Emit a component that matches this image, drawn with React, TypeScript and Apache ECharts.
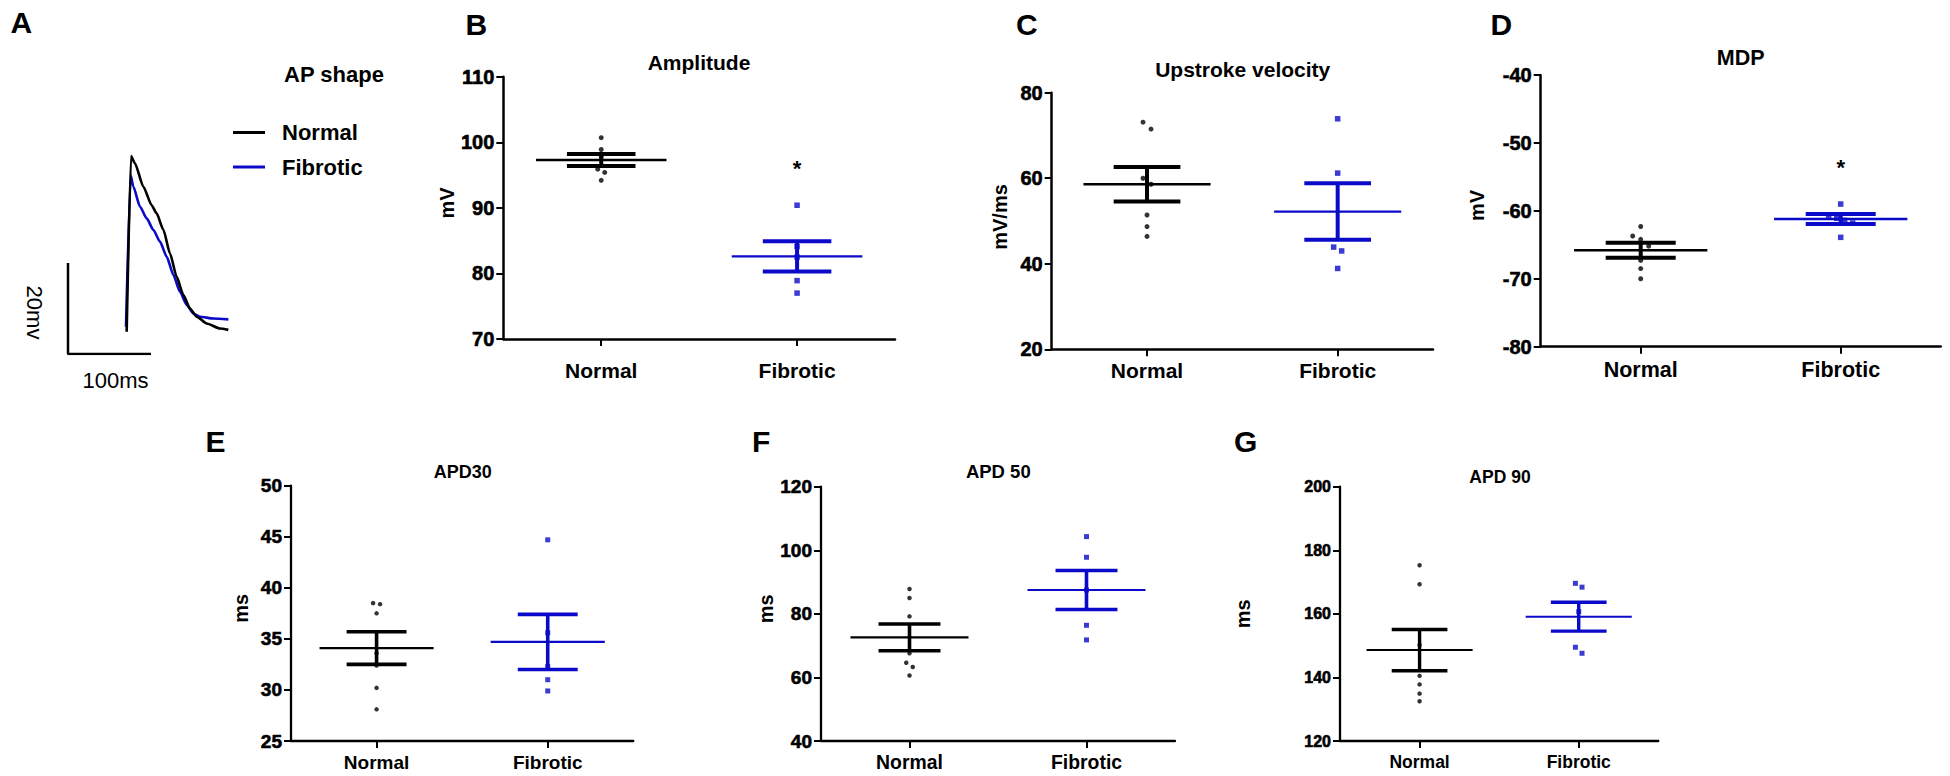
import React, { useEffect, useRef } from 'react';
import * as echarts from 'echarts';

// ---------------- data ----------------
const groups = ['Normal', 'Fibrotic'];

// Panel A: representative action potential traces [time (ms), potential (mV)]
const traceNormal = [
  [70.7, 4.9], [75.9, 43.5], [80.7, 41.9], [90.7, 36.8], [100.8, 32.7], [106.8, 30.9],
  [114.9, 27.3], [122.9, 22.1], [130.9, 17.0], [138.9, 13.0], [147.0, 10.0], [155.0, 8.2],
  [167.1, 6.7], [183.1, 5.6], [193.2, 5.3],
];
const traceFibrotic = [
  [69.9, 6.0], [75.5, 39.3], [78.7, 36.8], [86.7, 32.4], [94.8, 29.8], [102.8, 27.3],
  [110.8, 24.7], [118.9, 21.4], [126.9, 17.4], [134.9, 13.7], [143.0, 10.8], [151.0, 8.9],
  [159.0, 8.2], [175.1, 7.8], [193.2, 7.6],
];
const scaleBar = [[0, 20], [0, 0], [100, 0]]; // 20 mV / 100 ms

// Panel B: Amplitude (mV)
const amplitudeNormal = [100.7, 98.9, 97.8, 95.9, 95.4, 94.2];
const amplitudeFibrotic = [90.4, 84.1, 82.5, 78.9, 77.0];
const amplitudeMean = [97.3, 82.6];
const amplitudeSem = [0.9, 2.3];
const amplitudeStar = 96.1;

// Panel C: Upstroke velocity (mV/ms)
const upstrokeNormal = [73.1, 71.5, 60.0, 58.6, 51.4, 48.7, 46.4];
const upstrokeFibrotic = [73.9, 61.2, 43.9, 43.0, 38.9];
const upstrokeMean = [58.6, 52.2];
const upstrokeSem = [4.05, 6.6];

// Panel D: MDP (mV)
const mdpNormal = [-62.3, -63.7, -64.2, -65.2, -67.3, -68.5, -70.0];
const mdpFibrotic = [-59.0, -60.7, -61.1, -61.4, -61.8, -63.9];
const mdpMean = [-65.8, -61.2];
const mdpSem = [1.1, 0.75];
const mdpStar = -53.5;

// Panel E: APD30 (ms)
const apd30Normal = [38.5, 38.4, 37.5, 33.6, 32.4, 30.2, 28.1];
const apd30Fibrotic = [44.7, 35.6, 32.3, 31.0, 29.9];
const apd30Mean = [34.1, 34.7];
const apd30Sem = [1.6, 2.7];

// Panel F: APD 50 (ms)
const apd50Normal = [87.8, 85.0, 79.2, 67.6, 64.6, 63.3, 60.6];
const apd50Fibrotic = [104.3, 97.8, 87.5, 76.4, 71.8];
const apd50Mean = [72.6, 87.5];
const apd50Sem = [4.2, 6.15];

// Panel G: APD 90 (ms)
const apd90Normal = [175.3, 169.3, 150.2, 140.5, 137.8, 134.9, 132.5];
const apd90Fibrotic = [169.6, 168.4, 160.7, 149.5, 147.6];
const apd90Mean = [148.6, 159.1];
const apd90Sem = [6.5, 4.55];

// ---------------- styles ----------------
const FONT = '"Liberation Sans", Arial, Helvetica, sans-serif';
const BLACK = '#000000';
const BLUE = '#0a0ac8';

type Panel = {
  title: string; yName: string;
  normal: number[]; fibrotic: number[]; mean: number[]; sem: number[]; star?: number;
  min: number; max: number; interval: number;
  grid: { left: number; top: number; width: number; height: number };
  yFont: number; xFont: number; xMargin: number; nameGap: number; namePad: number;
  step: number; dot: number; square: number; axisW: number; meanW: number; capW: number;
};

const panels: Panel[] = [
  { title: 'Amplitude', yName: 'mV', normal: amplitudeNormal, fibrotic: amplitudeFibrotic, mean: amplitudeMean, sem: amplitudeSem, star: amplitudeStar,
    min: 70, max: 110, interval: 10, grid: { left: 503.3, top: 76.7, width: 391.7, height: 262.3 },
    yFont: 20, xFont: 21, xMargin: 20.5, nameGap: 46, namePad: 10, step: 7, dot: 5, square: 5.5, axisW: 2.5, meanW: 2.4, capW: 4 },
  { title: 'Upstroke velocity', yName: 'mV/ms', normal: upstrokeNormal, fibrotic: upstrokeFibrotic, mean: upstrokeMean, sem: upstrokeSem,
    min: 20, max: 80, interval: 20, grid: { left: 1051.7, top: 92.7, width: 381.3, height: 256.6 },
    yFont: 20, xFont: 21, xMargin: 10.5, nameGap: 42, namePad: 8, step: 8, dot: 5, square: 5.5, axisW: 2.5, meanW: 2.4, capW: 4 },
  { title: 'MDP', yName: 'mV', normal: mdpNormal, fibrotic: mdpFibrotic, mean: mdpMean, sem: mdpSem, star: mdpStar,
    min: -80, max: -40, interval: 10, grid: { left: 1540.7, top: 75, width: 400, height: 271.7 },
    yFont: 20, xFont: 21.5, xMargin: 12, nameGap: 54, namePad: 11, step: 8, dot: 5, square: 5.5, axisW: 2.5, meanW: 2.4, capW: 4 },
  { title: 'APD30', yName: 'ms', normal: apd30Normal, fibrotic: apd30Fibrotic, mean: apd30Mean, sem: apd30Sem,
    min: 25, max: 50, interval: 5, grid: { left: 291, top: 485.7, width: 342.3, height: 255.3 },
    yFont: 19, xFont: 19, xMargin: 11.5, nameGap: 40, namePad: 10, step: 7, dot: 4.5, square: 5, axisW: 2.3, meanW: 2.2, capW: 3.6 },
  { title: 'APD 50', yName: 'ms', normal: apd50Normal, fibrotic: apd50Fibrotic, mean: apd50Mean, sem: apd50Sem,
    min: 40, max: 120, interval: 20, grid: { left: 821, top: 486.7, width: 354, height: 254.3 },
    yFont: 19, xFont: 19.4, xMargin: 11.5, nameGap: 43.5, namePad: 10, step: 6.5, dot: 4.5, square: 5, axisW: 2.3, meanW: 2.2, capW: 3.6 },
  { title: 'APD 90', yName: 'ms', normal: apd90Normal, fibrotic: apd90Fibrotic, mean: apd90Mean, sem: apd90Sem,
    min: 120, max: 200, interval: 20, grid: { left: 1340, top: 486.7, width: 318.3, height: 254.3 },
    yFont: 16, xFont: 17.5, xMargin: 12, nameGap: 87, namePad: 0, step: 6.6, dot: 4.5, square: 5, axisW: 2.3, meanW: 2.0, capW: 3.4 },
];

const titles = [
  { text: 'A', x: 10.5, y: 22.5, size: 30, align: 'left' },
  { text: 'B', x: 465.5, y: 24, size: 30, align: 'left' },
  { text: 'C', x: 1016, y: 24, size: 30, align: 'left' },
  { text: 'D', x: 1490.5, y: 24, size: 30, align: 'left' },
  { text: 'E', x: 205.5, y: 441, size: 30, align: 'left' },
  { text: 'F', x: 752, y: 441, size: 30, align: 'left' },
  { text: 'G', x: 1234, y: 441, size: 30, align: 'left' },
  { text: 'AP shape', x: 334, y: 74.5, size: 22, align: 'center' },
  { text: 'Amplitude', x: 699, y: 62.3, size: 21, align: 'center' },
  { text: 'Upstroke velocity', x: 1242.7, y: 69, size: 21, align: 'center' },
  { text: 'MDP', x: 1740.7, y: 58, size: 21.5, align: 'center' },
  { text: 'APD30', x: 462.7, y: 471.7, size: 18, align: 'center' },
  { text: 'APD 50', x: 998.3, y: 471.7, size: 18.5, align: 'center' },
  { text: 'APD 90', x: 1500, y: 476.8, size: 17.5, align: 'center' },
];

// spread points that would overlap (pixel distance below threshold) symmetrically
function jitterOffsets(vals: number[], pxPerUnit: number, step: number, thresh = 7): number[] {
  const order = vals.map((_, i) => i).sort((a, b) => vals[b] - vals[a]);
  const offs = new Array(vals.length).fill(0);
  let chain: number[] = [order[0]];
  const flush = () => {
    const k = chain.length;
    chain.forEach((id, j) => { offs[id] = (j - (k - 1) / 2) * step; });
  };
  for (let j = 1; j < order.length; j++) {
    const prev = order[j - 1], cur = order[j];
    if ((vals[prev] - vals[cur]) * pxPerUnit < thresh) chain.push(cur);
    else { flush(); chain = [cur]; }
  }
  flush();
  return offs;
}

function buildOption() {
  const grids: any[] = [{ left: 68, top: 126.5, width: 166, height: 227.5 }];
  const xAxes: any[] = [{ gridIndex: 0, type: 'value', min: 0, max: 200, show: false }];
  const yAxes: any[] = [{ gridIndex: 0, type: 'value', min: 0, max: 50, show: false }];
  const series: any[] = [
    { name: 'Normal', type: 'line', xAxisIndex: 0, yAxisIndex: 0, data: traceNormal, symbol: 'none',
      smooth: 0.2, smoothMonotone: 'x', lineStyle: { color: BLACK, width: 2.6 }, itemStyle: { color: BLACK }, z: 3 },
    { name: 'Fibrotic', type: 'line', xAxisIndex: 0, yAxisIndex: 0, data: traceFibrotic, symbol: 'none',
      smooth: 0.2, smoothMonotone: 'x', lineStyle: { color: BLUE, width: 2.6 }, itemStyle: { color: BLUE }, z: 2 },
    { name: 'Scale bar', type: 'line', xAxisIndex: 0, yAxisIndex: 0, data: scaleBar, symbol: 'none',
      lineStyle: { color: BLACK, width: 2.5 } },
  ];

  panels.forEach((p, k) => {
    const gi = k + 1;
    grids.push({ ...p.grid });
    xAxes.push({
      gridIndex: gi, type: 'category', data: groups, boundaryGap: true,
      axisLine: { show: true, onZero: false, lineStyle: { color: BLACK, width: p.axisW } },
      axisTick: { show: true, alignWithLabel: true, length: 7, lineStyle: { color: BLACK, width: 2 } },
      axisLabel: { color: BLACK, fontFamily: FONT, fontWeight: 'bold', fontSize: p.xFont, margin: p.xMargin },
      splitLine: { show: false },
    });
    yAxes.push({
      gridIndex: gi, type: 'value', min: p.min, max: p.max, interval: p.interval,
      name: p.yName, nameLocation: 'middle', nameGap: p.nameGap,
      nameTextStyle: { color: BLACK, fontFamily: FONT, fontWeight: 'bold', fontSize: 20, padding: [0, 0, 0, p.namePad] },
      axisLine: { show: true, onZero: false, lineStyle: { color: BLACK, width: p.axisW } },
      axisTick: { show: true, length: 7, lineStyle: { color: BLACK, width: 2 } },
      axisLabel: {
        color: BLACK, fontFamily: FONT, fontWeight: 'bold', fontSize: p.yFont, margin: 9,
        textBorderColor: BLACK, textBorderWidth: 0.6,
      },
      splitLine: { show: false },
    });
    const pxPerUnit = p.grid.height / (p.max - p.min);
    const offN = jitterOffsets(p.normal, pxPerUnit, p.step);
    const offF = jitterOffsets(p.fibrotic, pxPerUnit, p.step);
    series.push({
      name: p.title + ' · Normal', type: 'scatter', xAxisIndex: gi, yAxisIndex: gi,
      symbol: 'circle', symbolSize: p.dot, itemStyle: { color: BLACK },
      data: p.normal.map((v, i) => ({ value: [0, v], symbolOffset: [offN[i], 0] })),
    });
    series.push({
      name: p.title + ' · Fibrotic', type: 'scatter', xAxisIndex: gi, yAxisIndex: gi,
      symbol: 'rect', symbolSize: p.square, itemStyle: { color: BLUE },
      data: p.fibrotic.map((v, i) => ({ value: [1, v], symbolOffset: [offF[i], 0] })),
    });
    series.push({
      name: p.title + ' · mean ± SEM', type: 'custom', xAxisIndex: gi, yAxisIndex: gi,
      encode: { x: 0, y: 1 },
      data: groups.map((_, i) => [i, p.mean[i], p.sem[i]]),
      renderItem: (params: any, api: any) => {
        const i = api.value(0), m = api.value(1), s = api.value(2);
        const c = api.coord([i, m]);
        const hi = api.coord([i, m + s]);
        const lo = api.coord([i, m - s]);
        const band = api.size([1, 0])[0];
        const color = params.dataIndex === 0 ? BLACK : BLUE;
        const half = band / 3, capHalf = band * 0.175;
        return {
          type: 'group',
          children: [
            { type: 'line', shape: { x1: c[0] - half, y1: c[1], x2: c[0] + half, y2: c[1] }, style: { stroke: color, lineWidth: p.meanW } },
            { type: 'line', shape: { x1: c[0], y1: hi[1], x2: c[0], y2: lo[1] }, style: { stroke: color, lineWidth: p.capW } },
            { type: 'line', shape: { x1: c[0] - capHalf, y1: hi[1], x2: c[0] + capHalf, y2: hi[1] }, style: { stroke: color, lineWidth: p.capW } },
            { type: 'line', shape: { x1: c[0] - capHalf, y1: lo[1], x2: c[0] + capHalf, y2: lo[1] }, style: { stroke: color, lineWidth: p.capW } },
          ],
        };
      },
      z: 3,
    });
    if (p.star !== undefined) {
      series.push({
        name: p.title + ' · significance', type: 'scatter', xAxisIndex: gi, yAxisIndex: gi,
        symbol: 'circle', symbolSize: 1, itemStyle: { color: 'rgba(0,0,0,0)' },
        data: [[1, p.star]],
        label: { show: true, position: 'inside', formatter: '*', offset: [0, 1], color: BLACK, opacity: 1,
          fontFamily: FONT, fontWeight: 'bold', fontSize: 22 },
        z: 4,
      });
    }
  });

  return {
    animation: false,
    backgroundColor: '#ffffff',
    title: titles.map((t) => ({
      text: t.text, left: t.x, top: t.y, textAlign: t.align, textVerticalAlign: 'middle', padding: 0,
      textStyle: { color: BLACK, fontFamily: FONT, fontWeight: 'bold', fontSize: t.size },
    })),
    legend: {
      data: ['Normal', 'Fibrotic'], orient: 'vertical', left: 233, top: 121.5, padding: 0,
      icon: 'rect', itemWidth: 32, itemHeight: 3, itemGap: 12.5, selectedMode: false,
      textStyle: { color: BLACK, fontFamily: FONT, fontWeight: 'bold', fontSize: 22, padding: [0, 0, 0, 12] },
    },
    grid: grids,
    xAxis: xAxes,
    yAxis: yAxes,
    series,
    graphic: [
      { type: 'text', x: 115.5, y: 380, style: { text: '100ms', fill: BLACK, font: `22px ${FONT}`, align: 'center', verticalAlign: 'middle' } },
      { type: 'text', x: 34, y: 312.5, rotation: -Math.PI / 2, style: { text: '20mv', fill: BLACK, font: `22px ${FONT}`, align: 'center', verticalAlign: 'middle' } },
    ],
  };
}

export default function App() {
  const ref = useRef<HTMLDivElement>(null);
  useEffect(() => {
    document.body.style.margin = '0';
    if (!ref.current) return;
    const chart = echarts.init(ref.current, undefined, { renderer: 'svg' });
    chart.setOption(buildOption() as any);
    return () => chart.dispose();
  }, []);
  return <div ref={ref} style={{ width: 1950, height: 776, background: '#fff' }} />;
}
